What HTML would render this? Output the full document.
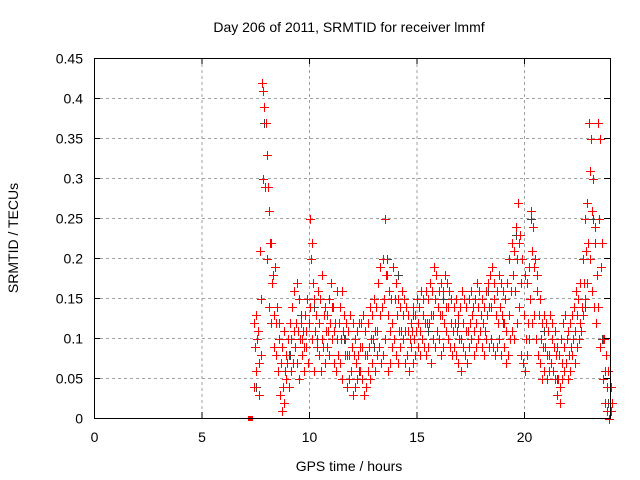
<!DOCTYPE html>
<html><head><meta charset="utf-8"><style>
body{margin:0;background:#fff;}
svg{display:block;font-family:"Liberation Sans",sans-serif;}
</style></head><body>
<svg id="chart" width="640" height="480">
<rect width="640" height="480" fill="#fff"/>
<g id="grid"></g>
<g id="marks" shape-rendering="crispEdges"></g>
<rect x="94.5" y="58.5" width="516" height="360" fill="none" stroke="#000"/>
<g id="ticks"></g>
<text x="349" y="32" text-anchor="middle" font-size="14">Day 206 of 2011, SRMTID for receiver lmmf</text>
<text x="349" y="471" text-anchor="middle" font-size="14">GPS time / hours</text>
<text x="18" y="238" text-anchor="middle" font-size="14" transform="rotate(-90 18 238)">SRMTID / TECUs</text>
</svg>
<script>
const xTicks=[0,5,10,15,20];
const yTicks=[0,0.05,0.1,0.15,0.2,0.25,0.3,0.35,0.4,0.45];
const yLabels=["0","0.05","0.1","0.15","0.2","0.25","0.3","0.35","0.4","0.45"];
const times=[];for(let i=74;i<=240;i++)times.push(i/10);
const seriesA=[.12,.13,.11,.21,.42,.39,.33,.26,.22,.18,
.19,.14,.12,.09,.11,.08,.10,.12,.14,.16,
.17,.15,.12,.11,.13,.15,.25,.22,.15,.13,
.16,.15,.18,.14,.13,.15,.17,.14,.12,.16,
.14,.16,.13,.12,.11,.13,.12,.10,.11,.12,
.12,.13,.11,.12,.14,.13,.15,.14,.17,.19,
.20,.25,.18,.16,.15,.19,.17,.15,.14,.16,
.15,.14,.13,.12,.14,.13,.15,.14,.16,.15,
.16,.15,.17,.16,.19,.18,.16,.17,.16,.18,
.17,.16,.15,.14,.15,.13,.14,.16,.15,.14,
.15,.16,.14,.15,.17,.16,.15,.14,.16,.17,
.18,.19,.17,.16,.18,.17,.16,.15,.17,.20,
.22,.21,.24,.27,.23,.20,.18,.17,.19,.26,
.24,.20,.18,.15,.12,.13,.12,.11,.13,.12,
.11,.09,.08,.10,.12,.13,.11,.12,.13,.14,
.16,.15,.17,.20,.25,.27,.37,.35,.30,.24,
.37,.35,.22,.10,.08,.06,.04];
const seriesB=[.04,.06,.03,.08,.30,.29,.20,.14,.12,.09,
.08,.06,.03,.01,.02,.05,.04,.06,.07,.09,
.07,.05,.08,.06,.09,.07,.14,.10,.06,.09,
.08,.06,.09,.07,.09,.08,.10,.07,.06,.08,
.07,.05,.08,.04,.05,.06,.03,.04,.05,.06,
.05,.03,.04,.06,.05,.07,.06,.08,.09,.07,
.08,.10,.06,.07,.09,.10,.08,.07,.09,.10,
.07,.08,.06,.09,.07,.08,.09,.08,.10,.09,
.08,.09,.07,.10,.09,.11,.10,.08,.09,.11,
.10,.09,.08,.09,.08,.07,.06,.09,.08,.07,
.09,.10,.08,.09,.10,.11,.09,.08,.10,.09,
.10,.09,.08,.09,.10,.08,.09,.07,.08,.10,
.11,.10,.12,.14,.08,.07,.06,.08,.10,.12,
.13,.10,.08,.07,.05,.06,.05,.06,.07,.06,
.05,.03,.02,.05,.06,.07,.05,.06,.08,.07,
.09,.10,.11,.13,.15,.17,.20,.16,.14,.12,
.14,.09,.05,.02,.01,.00,.01];
const seriesC=[.09,.10,.07,.15,.41,.37,.29,.22,.17,.13,
.12,.10,.07,.04,.06,.07,.08,.10,.11,.12,
.11,.10,.10,.09,.11,.12,.20,.17,.11,.10,
.12,.10,.13,.11,.11,.12,.14,.11,.10,.12,
.10,.11,.10,.08,.08,.09,.08,.07,.08,.09,
.09,.08,.08,.09,.10,.10,.11,.11,.13,.14,
.15,.18,.13,.11,.12,.15,.13,.11,.11,.13,
.11,.11,.10,.11,.10,.11,.12,.11,.13,.12,
.12,.12,.13,.13,.15,.14,.13,.13,.12,.14,
.14,.12,.11,.12,.11,.10,.10,.12,.11,.11,
.12,.13,.11,.12,.14,.13,.12,.11,.13,.14,
.14,.15,.13,.12,.14,.13,.12,.11,.13,.16,
.18,.16,.20,.22,.17,.13,.10,.12,.15,.21,
.19,.16,.13,.10,.09,.09,.08,.08,.10,.09,
.08,.05,.04,.07,.09,.10,.08,.09,.10,.11,
.13,.12,.14,.17,.21,.22,.31,.26,.22,.18,
.25,.19,.10,.06,.04,.02,.02];
const greyT=[7.5,7.9,8.2,8.6,9.1,9.6,10.2,10.9,11.6,12.3,13.0,13.5,13.6,14.1,14.8,15.5,16.2,16.9,17.6,18.3,19.0,19.6,20.3,20.9,21.5,22.2,22.8,23.2,23.6,23.9];
const greyV=[.04,.37,.22,.12,.08,.13,.14,.15,.10,.06,.09,.25,.20,.18,.13,.11,.15,.12,.14,.16,.12,.23,.25,.11,.05,.08,.14,.25,.10,.02];
const startT=[7.3];const startV=[0];

const X=t=>94.5+t*516/24, Y=v=>418.5-v*800;
const NS='http://www.w3.org/2000/svg';
const grid=document.getElementById('grid'),ticks=document.getElementById('ticks'),marks=document.getElementById('marks');
function mk(tag,attrs,parent){const e=document.createElementNS(NS,tag);for(const k in attrs)e.setAttribute(k,attrs[k]);parent.appendChild(e);return e;}
xTicks.forEach(t=>{
  const x=X(t);
  if(t>0){const g=mk('line',{x1:x,x2:x,y1:58,y2:418,stroke:'#a0a0a0','stroke-dasharray':'3,3'},grid);
  
  }
  mk('line',{x1:x,x2:x,y1:418,y2:412,stroke:'#000'},ticks);
  mk('line',{x1:x,x2:x,y1:58,y2:64,stroke:'#000'},ticks);
  const l=mk('text',{x:x,y:442,'text-anchor':'middle','font-size':14},ticks);l.textContent=t;
  
  
});
yTicks.forEach((v,i)=>{
  const y=Y(v);
  if(v>0&&v<0.45){const g=mk('line',{x1:94,x2:610,y1:y,y2:y,stroke:'#a0a0a0','stroke-dasharray':'3,3'},grid);
  
  }
  mk('line',{x1:94,x2:100,y1:y,y2:y,stroke:'#000'},ticks);
  mk('line',{x1:610,x2:604,y1:y,y2:y,stroke:'#000'},ticks);
  const l=mk('text',{x:83,y:y+5,'text-anchor':'end','font-size':14},ticks);l.textContent=yLabels[i];
  
  
});
function plus(t,v,color,name){
  const x=Math.round(X(t)),y=Math.round(Y(v));
  const g=mk('g',{fill:color},marks);
  
  
  mk('rect',{x:x-4,y:y,width:9,height:1},g);
  mk('rect',{x:x,y:y-4,width:1,height:9},g);
}
greyT.forEach((t,i)=>plus(t,greyV[i],'#404040','grey-point'));
times.forEach((t,i)=>{
  plus(t,seriesA[i],'#ff0000','red-point');
  plus(t+0.03,seriesB[i],'#ff0000','red-point');
  plus(t+0.06,seriesC[i],'#ff0000','red-point');
});
startT.forEach((t,i)=>{
  const r=mk('rect',{x:Math.round(X(t))-3,y:Math.round(Y(startV[i]))-3,width:5,height:5,fill:'#ff0000'},marks);
  
  
});
</script>
</body></html>
